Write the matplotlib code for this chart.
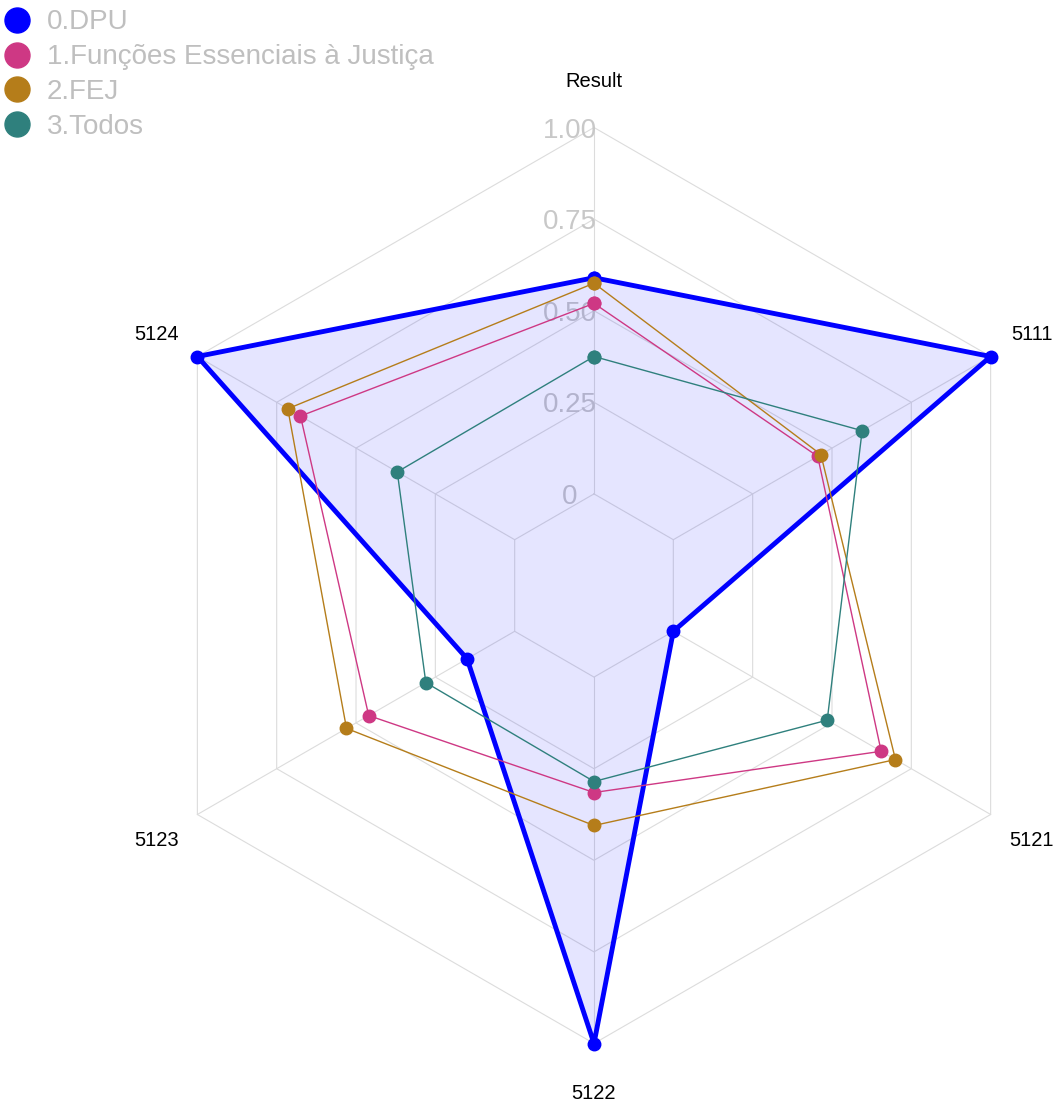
import numpy as np
import matplotlib.pyplot as plt
from matplotlib.lines import Line2D

plt.rcParams["font.family"] = ["Liberation Sans", "DejaVu Sans"]

# axes of the radar, clockwise from the top
categories = ["Result", "5111", "5121", "5122", "5123", "5124"]

series_names = ["0.DPU", "1.Funções Essenciais à Justiça", "2.FEJ", "3.Todos"]
dpu = [0.59, 1.0, 0.0, 1.0, 0.15, 1.0]
funcoes = [0.52, 0.455, 0.655, 0.315, 0.46, 0.675]
fej = [0.575, 0.465, 0.70, 0.405, 0.53, 0.715]
todos = [0.375, 0.595, 0.485, 0.285, 0.28, 0.37]

grid_values = [0, 0.25, 0.5, 0.75, 1.0]
grid_labels = ["0", "0.25", "0.50", "0.75", "1.00"]

colors = ["#0000FF", "#CE3884", "#B57D1A", "#2F807D"]
centre_y = -0.25  # value sitting at the very centre of the plot

angles = np.deg2rad(90 - 60 * np.arange(len(categories)))


def to_xy(values, close=True):
    r = np.asarray(values, dtype=float) - centre_y
    x = r * np.cos(angles)
    y = r * np.sin(angles)
    if close:
        x = np.append(x, x[0])
        y = np.append(y, y[0])
    return x, y


fig = plt.figure(figsize=(10.59, 11.03), dpi=100)
ax = fig.add_axes([0, 0, 1, 1])

# pixel layout: centre of radar and pixels per unit of radius
scale = 366.4
cx, cy = 594, 585.5
ax.set_xlim(-cx / scale, (1059 - cx) / scale)
ax.set_ylim(-(1103 - cy) / scale, cy / scale)
ax.axis("off")

# grid: hexagons and spokes
for g in grid_values:
    gx, gy = to_xy([g] * len(categories))
    ax.plot(gx, gy, color="#DCDCDC", lw=0.8, zorder=1)
x0, y0 = to_xy([grid_values[0]] * len(categories), close=False)
x1, y1 = to_xy([grid_values[-1]] * len(categories), close=False)
for a, b, c, d in zip(x0, x1, y0, y1):
    ax.plot([a, b], [c, d], color="#DCDCDC", lw=0.8, zorder=1)

# radial labels
for g, lab in zip(grid_values, grid_labels):
    ax.text(-24 / scale, g - centre_y, lab, ha="center", va="center_baseline",
            fontsize=20, color="#C8C8C8", zorder=1.5)

# axis labels
lab_r = 1.38
for ang, cat in zip(angles, categories):
    ax.text(lab_r * np.cos(ang), lab_r * np.sin(ang), cat, ha="center",
            va="center_baseline", fontsize=14.5, color="black")

# series
all_series = [dpu, funcoes, fej, todos]
sx, sy = to_xy(dpu)
ax.fill(sx, sy, color=colors[0], alpha=0.1, lw=0, zorder=2)
for i, (vals, col) in enumerate(zip(all_series, colors)):
    px, py = to_xy(vals)
    lw = 3.5 if i == 0 else 1.0
    ax.plot(px, py, color=col, lw=lw, marker="o", ms=9, zorder=3 + i)

# legend
handles = [Line2D([], [], marker="o", linestyle="", markersize=18, color=c)
           for c in colors]
fig.legend(handles, series_names, loc="upper left", bbox_to_anchor=(0.003, 0.9915),
           frameon=False, fontsize=20, labelcolor="#BFBFBF", handlelength=1,
           handletextpad=0.58, labelspacing=0.32, borderpad=0, borderaxespad=0)

fig.savefig("out.png", dpi=100)
